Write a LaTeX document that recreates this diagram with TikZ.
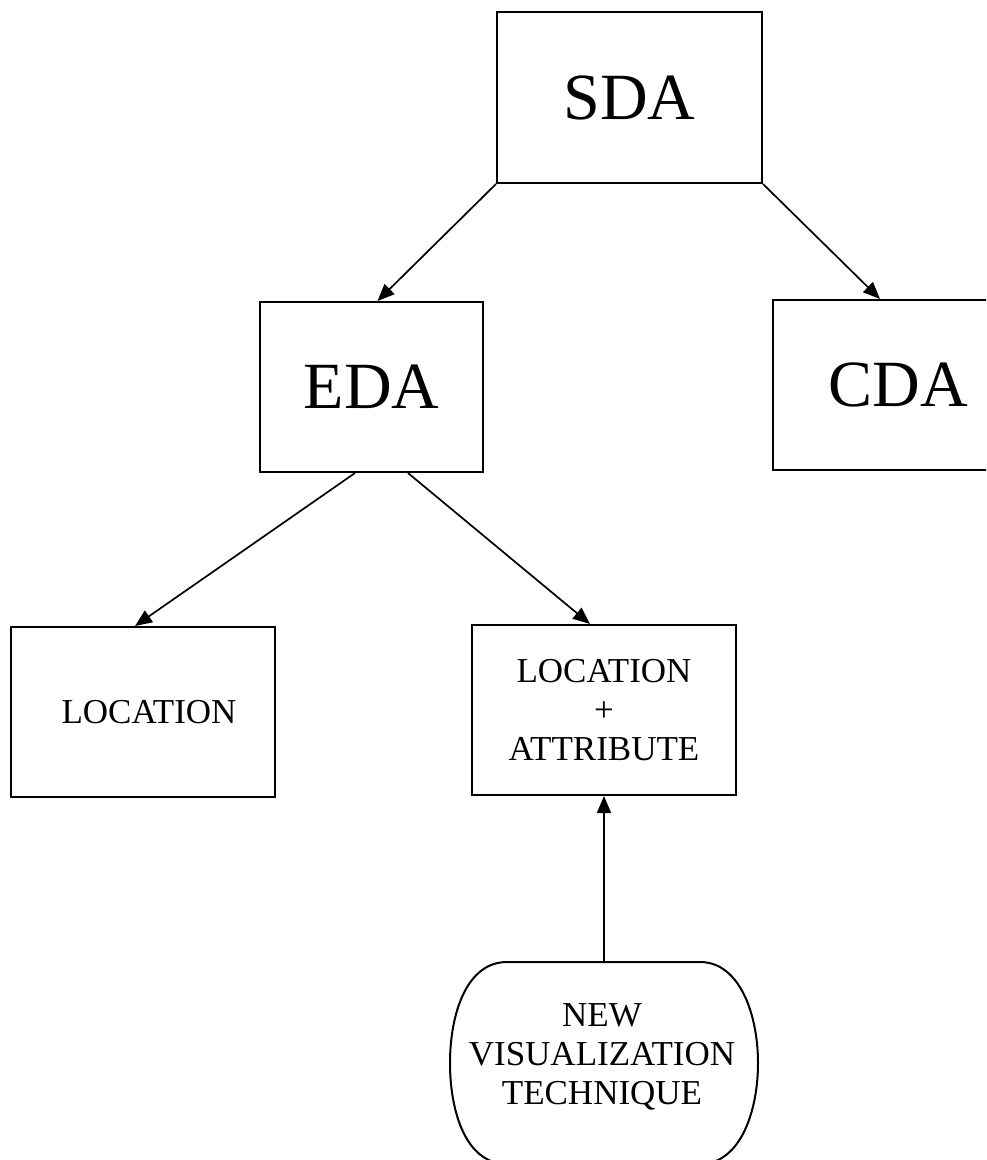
\documentclass[tikz,border=0pt]{standalone}
\usepackage{fontspec}
\setmainfont{Liberation Serif}
\usetikzlibrary{arrows.meta,calc}
\tikzset{
  box/.style={draw, line width=2pt, inner sep=0pt, align=center},
  bigtext/.style={font=\fontsize{66}{70}\selectfont},
  smalltext/.style={font=\fontsize{35}{39}\selectfont},
  link/.style={line width=1.7pt, -{Triangle[length=17pt,width=14pt]}},
  outline/.style={line width=2pt}
}
\begin{document}
\begin{tikzpicture}[x=1pt,y=-1pt]
\useasboundingbox (0,0) rectangle (986,1160);
\clip (0,0) rectangle (986,1160);

% top level
\node[box,bigtext,minimum width=265pt,minimum height=171pt] (sda) at (629.5,97.5) {SDA};

% second level
\node[box,bigtext,minimum width=223pt,minimum height=170pt] (eda) at (371.5,387) {EDA};
\node[box,bigtext,minimum width=250pt,minimum height=170pt] (cda) at (898,385) {CDA};

% third level
\node[box,smalltext,minimum width=264pt,minimum height=170pt] (loc) at (143,712) {\hspace*{12pt}LOCATION};
\node[box,smalltext,minimum width=264pt,minimum height=170pt] (locattr) at (604,710) {LOCATION\\+\\ATTRIBUTE};

% rounded terminal shape at the bottom
\node[minimum width=308pt,minimum height=202pt,inner sep=0pt] (nvt) at (604,1063) {};
\draw[outline] (507,962) -- (700,962)
  .. controls (740,962) and (758,1015) .. (758,1063)
  .. controls (758,1112) and (740,1164) .. (700,1164)
  -- (507,1164)
  .. controls (466,1164) and (450,1112) .. (450,1063)
  .. controls (450,1015) and (466,962) .. (507,962) -- cycle;
\node[smalltext,align=center] (nvttext) at (602,1057) {NEW\\VISUALIZATION\\TECHNIQUE};

% connectors
\draw[link] (sda.south west) -- ([xshift=6pt]eda.north);
\draw[link] (sda.south east) -- ([xshift=-18pt]cda.north);
\draw[link] ([xshift=-16.5pt]eda.south) -- ([xshift=-8pt]loc.north);
\draw[link] ([xshift=36.5pt]eda.south) -- ([xshift=-14pt]locattr.north);
\draw[link] (nvt.north) -- (locattr.south);
\end{tikzpicture}
\end{document}
